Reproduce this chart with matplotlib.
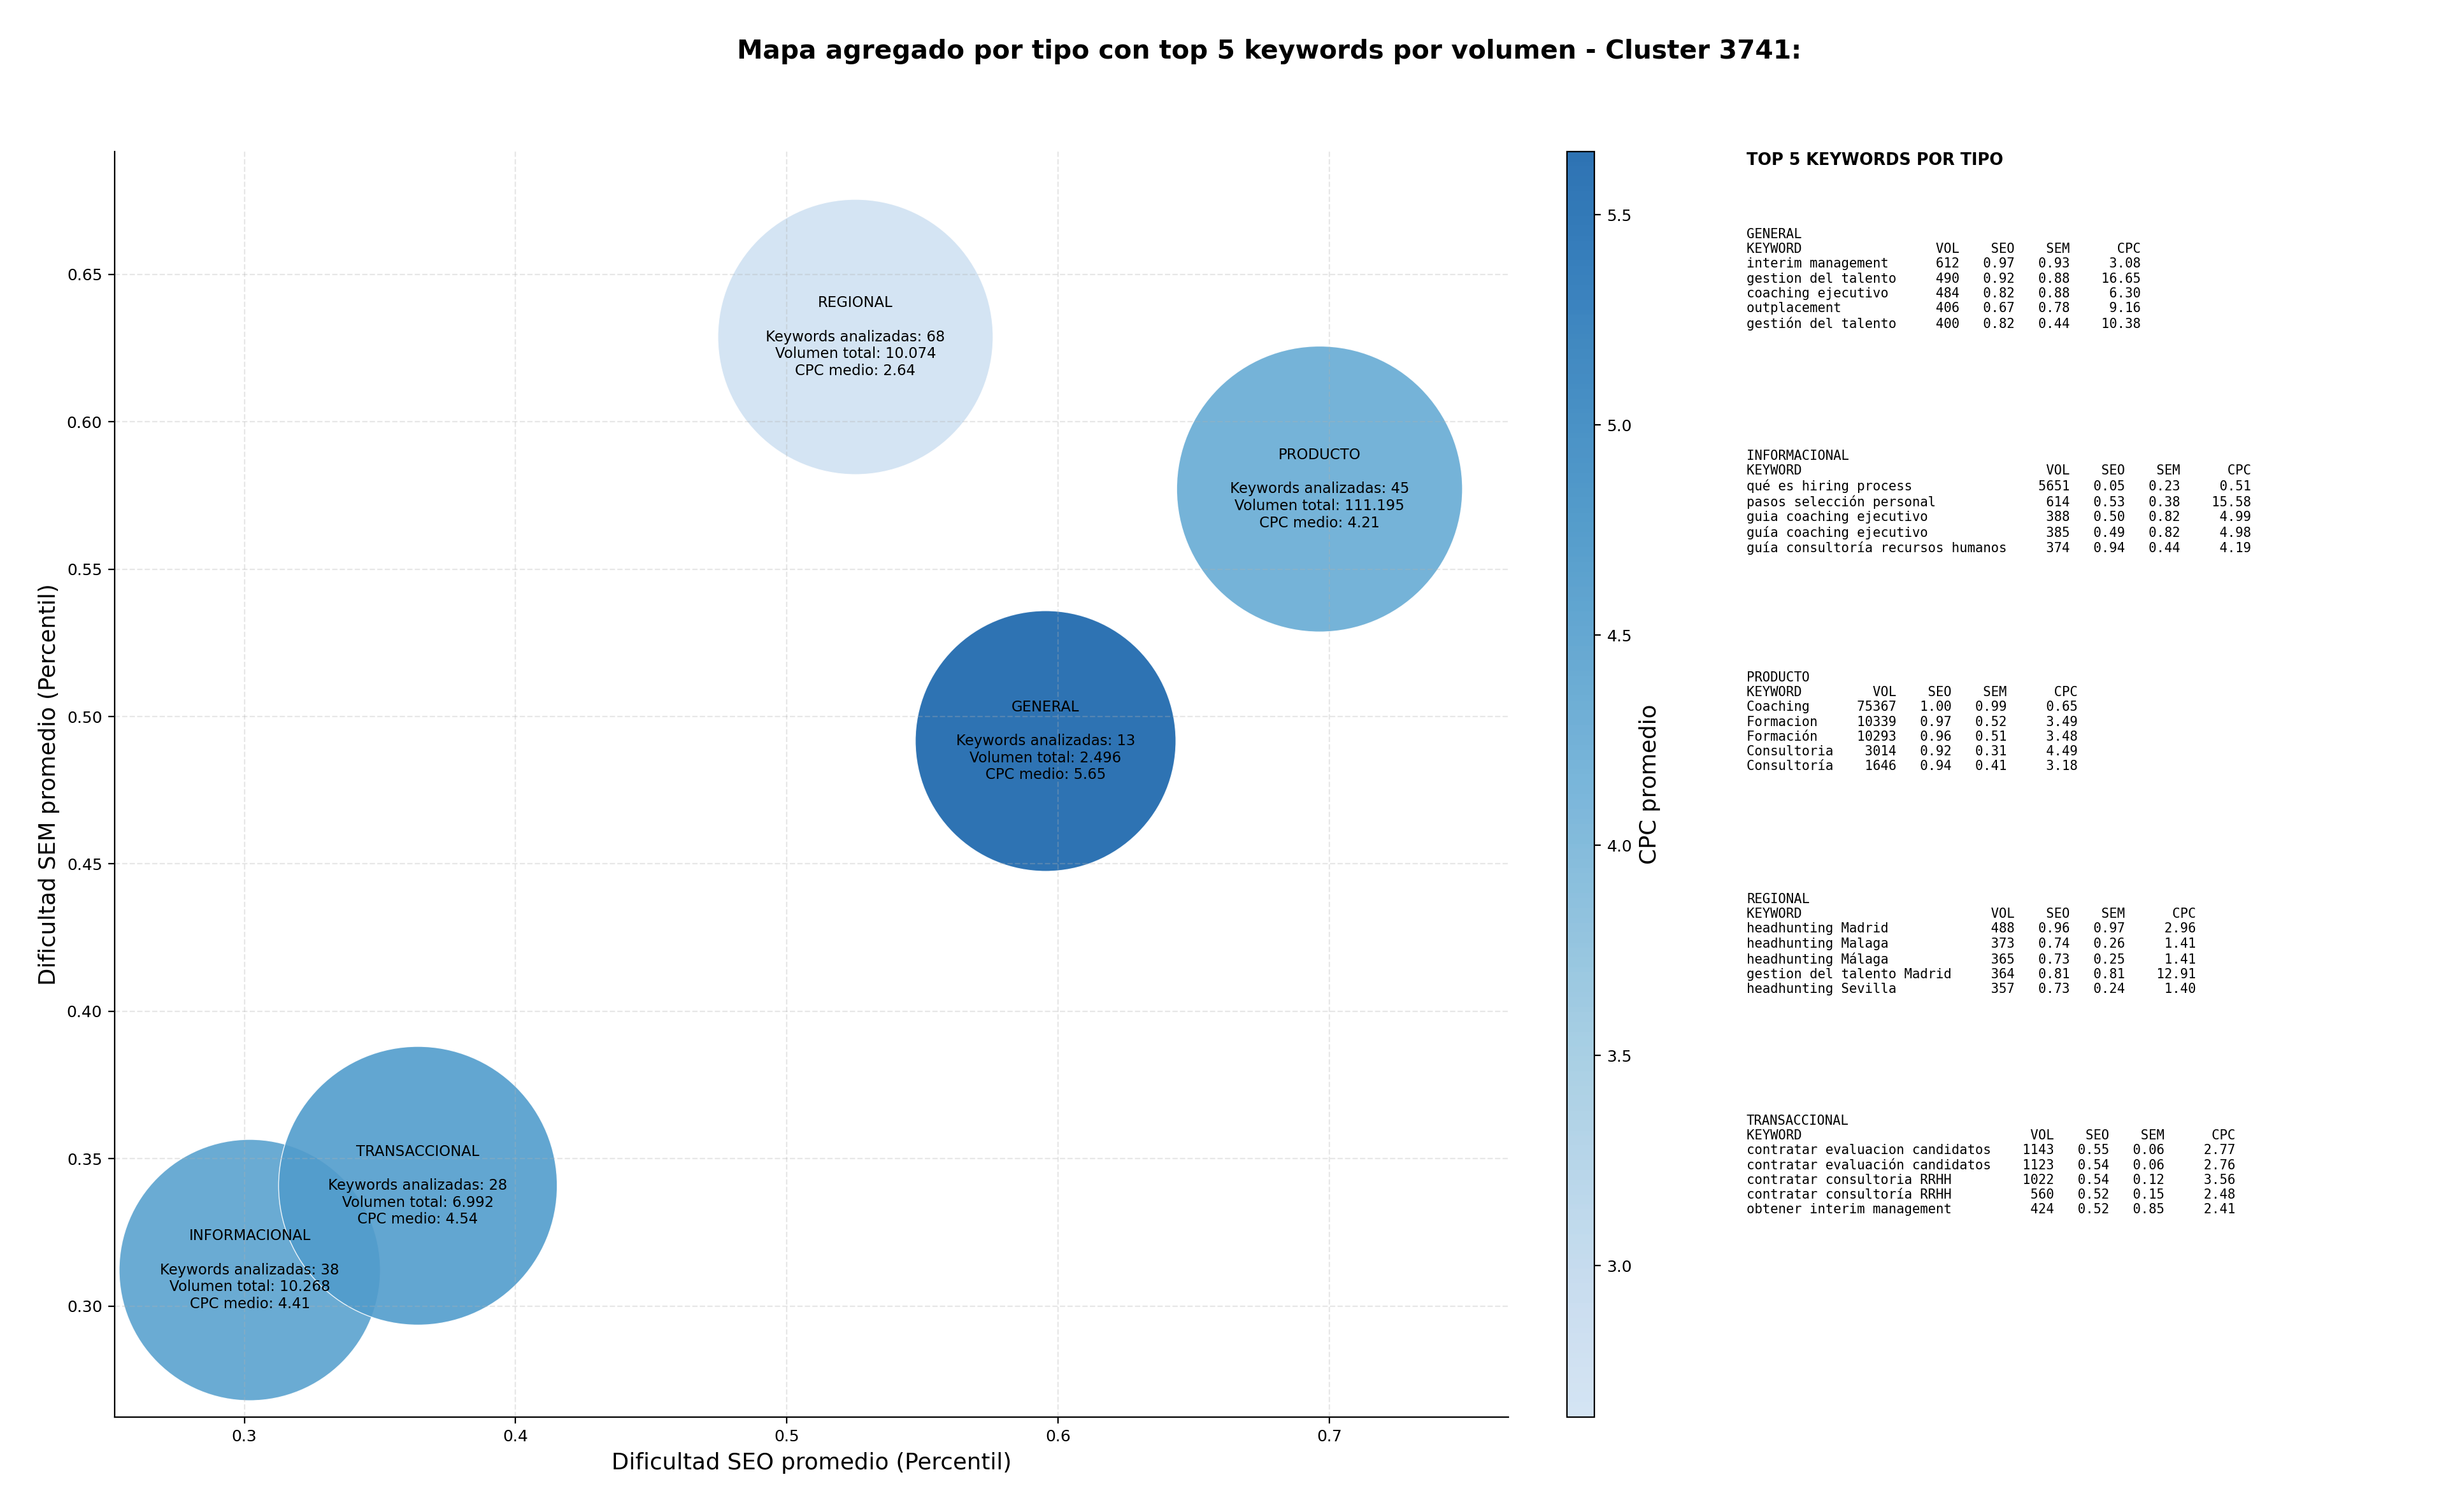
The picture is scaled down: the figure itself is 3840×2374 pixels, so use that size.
import numpy as np
import matplotlib
matplotlib.use('Agg')
import matplotlib.pyplot as plt
from matplotlib.colors import LinearSegmentedColormap

# aggregated values per keyword type
tipos = ['GENERAL', 'INFORMACIONAL', 'PRODUCTO', 'REGIONAL', 'TRANSACCIONAL']
seo_medio = [0.5954, 0.3020, 0.6964, 0.5253, 0.3640]
sem_medio = [0.4917, 0.3122, 0.5772, 0.6288, 0.3408]
n_keywords = [13, 38, 45, 68, 28]
volumen_total = [2496, 10268, 111195, 10074, 6992]
cpc_medio = [5.65, 4.41, 4.21, 2.64, 4.54]
bubble_area = [21700, 21800, 26100, 24200, 24800]

# top 5 keywords per type: keyword, vol, seo, sem, cpc
top_general = [
    ('interim management', 612, 0.97, 0.93, 3.08),
    ('gestion del talento', 490, 0.92, 0.88, 16.65),
    ('coaching ejecutivo', 484, 0.82, 0.88, 6.30),
    ('outplacement', 406, 0.67, 0.78, 9.16),
    ('gestión del talento', 400, 0.82, 0.44, 10.38),
]
top_informacional = [
    ('qué es hiring process', 5651, 0.05, 0.23, 0.51),
    ('pasos selección personal', 614, 0.53, 0.38, 15.58),
    ('guia coaching ejecutivo', 388, 0.50, 0.82, 4.99),
    ('guía coaching ejecutivo', 385, 0.49, 0.82, 4.98),
    ('guía consultoría recursos humanos', 374, 0.94, 0.44, 4.19),
]
top_producto = [
    ('Coaching', 75367, 1.00, 0.99, 0.65),
    ('Formacion', 10339, 0.97, 0.52, 3.49),
    ('Formación', 10293, 0.96, 0.51, 3.48),
    ('Consultoria', 3014, 0.92, 0.31, 4.49),
    ('Consultoría', 1646, 0.94, 0.41, 3.18),
]
top_regional = [
    ('headhunting Madrid', 488, 0.96, 0.97, 2.96),
    ('headhunting Malaga', 373, 0.74, 0.26, 1.41),
    ('headhunting Málaga', 365, 0.73, 0.25, 1.41),
    ('gestion del talento Madrid', 364, 0.81, 0.81, 12.91),
    ('headhunting Sevilla', 357, 0.73, 0.24, 1.40),
]
top_transaccional = [
    ('contratar evaluacion candidatos', 1143, 0.55, 0.06, 2.77),
    ('contratar evaluación candidatos', 1123, 0.54, 0.06, 2.76),
    ('contratar consultoria RRHH', 1022, 0.54, 0.12, 3.56),
    ('contratar consultoría RRHH', 560, 0.52, 0.15, 2.48),
    ('obtener interim management', 424, 0.52, 0.85, 2.41),
]
tops = [top_general, top_informacional, top_producto, top_regional, top_transaccional]

W, H = 3840, 2374
fig = plt.figure(figsize=(19.2, 11.87), dpi=200)

ax_b = 1 - 2225 / H
ax_h = (2225 - 238) / H
ax = fig.add_axes([180 / W, ax_b, (2368 - 180) / W, ax_h])
cax = fig.add_axes([2460 / W, ax_b, 43 / W, ax_h])

base = plt.get_cmap('Blues')
cmap = LinearSegmentedColormap.from_list('blues_cut', base(np.linspace(0.2, 0.8, 256)))

sc = ax.scatter(seo_medio, sem_medio, s=bubble_area, c=cpc_medio, cmap=cmap,
                alpha=0.9, edgecolors='white', linewidths=0.5)

for i, t in enumerate(tipos):
    vol_txt = f"{volumen_total[i]:,}".replace(',', '.')
    label = (f"{t}\n\nKeywords analizadas: {n_keywords[i]}\n"
             f"Volumen total: {vol_txt}\nCPC medio: {cpc_medio[i]:.2f}")
    ax.text(seo_medio[i], sem_medio[i], label, ha='center', va='center', fontsize=8.2)

ax.set_xlim(0.2522, 0.766)
ax.set_ylim(0.2623, 0.6917)
ax.set_xlabel('Dificultad SEO promedio (Percentil)', fontsize=12.8)
ax.set_ylabel('Dificultad SEM promedio (Percentil)', fontsize=12.8)
ax.tick_params(labelsize=9)
ax.grid(True, linestyle='--', alpha=0.3)
ax.spines['top'].set_visible(False)
ax.spines['right'].set_visible(False)

cb = fig.colorbar(sc, cax=cax)
cb.set_label('CPC promedio', fontsize=12.8)
cb.ax.tick_params(labelsize=9)

fig.text(0.519, 0.966, 'Mapa agregado por tipo con top 5 keywords por volumen - Cluster 3741:',
         ha='center', va='center', fontsize=14.7, fontweight='bold')

# side panel with the top keywords
x_txt = 2742 / W
fig.text(x_txt, 1 - 239 / H, 'TOP 5 KEYWORDS POR TIPO', fontsize=9.2,
         fontweight='bold', va='top')
for i, t in enumerate(tipos):
    rows = tops[i]
    L = max(len(r[0]) for r in rows)
    lines = [t, f"{'KEYWORD':<{L}}  {'VOL':>6} {'SEO':>6} {'SEM':>6} {'CPC':>8}"]
    for kw, v, s1, s2, c in rows:
        lines.append(f"{kw:<{L}}  {v:>6} {s1:>6.2f} {s2:>6.2f} {c:>8.2f}")
    fig.text(x_txt, 1 - (358 + i * 348) / H, '\n'.join(lines),
             family='DejaVu Sans Mono', fontsize=7.42, va='top')

fig.savefig('out.png', dpi=200)
